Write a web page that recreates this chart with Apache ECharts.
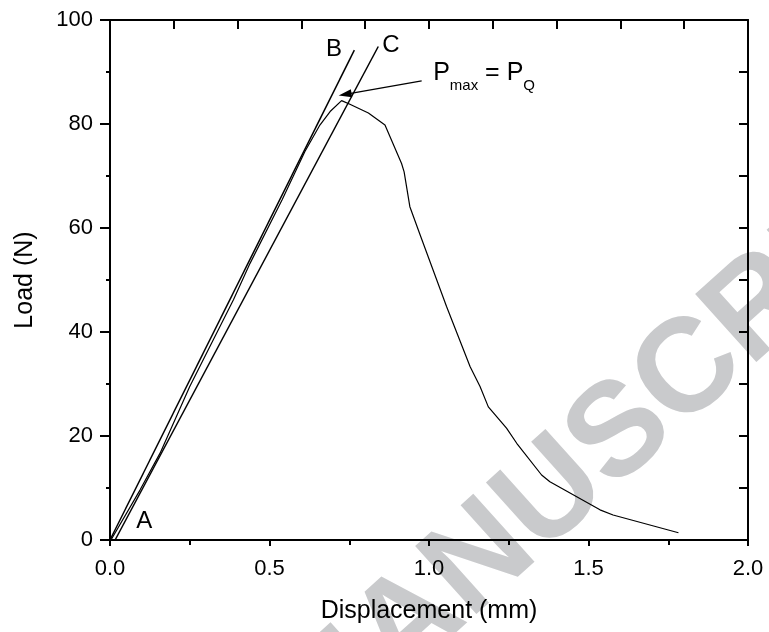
<!DOCTYPE html>
<html lang="en">
<head>
    <meta charset="UTF-8">
    <title>Load - Displacement</title>
    <script src="https://cdn.jsdelivr.net/npm/echarts@6.0.0/dist/echarts.min.js"></script>
    <style>
        html, body { margin: 0; padding: 0; background: #fff; }
    </style>
</head>
<body>
    <div id="main" style="width: 769px;height:632px;"></div>

    <script>
        // measured curve (displacement mm, load N)
        var curveX = [0.003, 0.094, 0.157, 0.250, 0.387, 0.439, 0.540, 0.611, 0.658, 0.690, 0.726,
                      0.752, 0.810, 0.862, 0.914, 0.922, 0.940, 0.972, 1.055, 1.129, 1.160,
                      1.186, 1.243, 1.275, 1.353, 1.379, 1.536, 1.577, 1.782];
        var curveY = [0.0, 9.6, 16.7, 29.5, 46.2, 53.2, 65.5, 74.7, 79.8, 82.4, 84.5,
                      83.8, 82.1, 79.8, 72.4, 70.8, 64.1, 58.7, 44.9, 33.3, 29.5,
                      25.6, 21.5, 18.6, 12.5, 11.2, 5.8, 4.8, 1.4];

        // tangent lines
        var lineB = [[0.0, 0.0], [0.766, 94.2]];
        var lineC = [[0.016, 0.0], [0.841, 94.9]];

        // arrow pointing to Pmax
        var arrowFrom = [0.977, 88.3];
        var arrowTo = [0.737, 85.7];

        // text labels
        var labelPts = [[0.702, 94.4, 'B'], [0.881, 95.2, 'C'], [0.107, 3.5, 'A']];
        var pmaxPos = [1.013, 89.8];

        var xTickLabels = ['0.0', '0.5', '1.0', '1.5', '2.0'];

        var font = 'Arial, "Liberation Sans", sans-serif';
        var black = '#000';

        var myChart = echarts.init(document.getElementById('main'));

        var curve = curveX.map(function(x, i) { return [x, curveY[i]]; });

        var option = {
            backgroundColor: '#fff',
            animation: false,
            grid: { left: 110, right: 21, top: 20, bottom: 92 },
            xAxis: [
                {
                    type: 'value', position: 'bottom', min: 0, max: 2, interval: 0.5,
                    name: 'Displacement (mm)', nameLocation: 'middle', nameGap: 59,
                    nameTextStyle: { fontSize: 25, color: black, fontFamily: font },
                    axisLine: { show: true, onZero: false, lineStyle: { color: black, width: 2 } },
                    axisTick: { show: true, inside: false, length: 6, lineStyle: { color: black, width: 2 } },
                    minorTick: { show: true, splitNumber: 2, length: 5, lineStyle: { color: black, width: 2 } },
                    splitLine: { show: false },
                    axisLabel: {
                        fontSize: 22, color: black, fontFamily: font, margin: 18,
                        formatter: function(v) { return xTickLabels[Math.round(v / 0.5)]; }
                    }
                },
                {
                    type: 'value', position: 'top', min: 0, max: 2, interval: 0.2,
                    axisLine: { show: true, onZero: false, lineStyle: { color: black, width: 2 } },
                    axisTick: { show: true, inside: true, length: 9, lineStyle: { color: black, width: 2 } },
                    axisLabel: { show: false },
                    splitLine: { show: false }
                }
            ],
            yAxis: [
                {
                    type: 'value', position: 'left', min: 0, max: 100, interval: 20,
                    name: 'Load (N)', nameLocation: 'middle', nameGap: 72,
                    nameTextStyle: { fontSize: 25, color: black, fontFamily: font },
                    axisLine: { show: true, onZero: false, lineStyle: { color: black, width: 2 } },
                    axisTick: { show: true, inside: false, length: 10, lineStyle: { color: black, width: 2 } },
                    minorTick: { show: true, splitNumber: 2, length: 4, lineStyle: { color: black, width: 2 } },
                    splitLine: { show: false },
                    axisLabel: { fontSize: 22, color: black, fontFamily: font, margin: 17 }
                },
                {
                    type: 'value', position: 'right', min: 0, max: 100, interval: 10,
                    axisLine: { show: true, onZero: false, lineStyle: { color: black, width: 2 } },
                    axisTick: { show: true, inside: true, length: 9, lineStyle: { color: black, width: 2 } },
                    axisLabel: { show: false },
                    splitLine: { show: false }
                }
            ],
            graphic: [
                {
                    // "ACCEPTED MANUSCRIPT" watermark, split at the N
                    type: 'group', x: 476, y: 627, rotation: 0.733, z: -10, silent: true,
                    children: [
                        {
                            type: 'text', x: 0, y: -46, z: -10,
                            style: { text: 'ACCEPTED MA', fill: '#c9cacc', font: 'bold 133px ' + font, align: 'right', verticalAlign: 'middle' }
                        },
                        {
                            type: 'text', x: 0, y: -46, z: -10,
                            style: { text: 'NUSCRIPT', fill: '#c9cacc', font: 'bold 133px ' + font, align: 'left', verticalAlign: 'middle' }
                        }
                    ]
                }
            ],
            series: [
                {
                    name: 'curve', type: 'line', data: curve, showSymbol: false, symbol: 'none',
                    lineStyle: { color: black, width: 1.2 }, z: 3
                },
                {
                    name: 'B', type: 'line', data: lineB, showSymbol: false, symbol: 'none',
                    lineStyle: { color: black, width: 1.5 }, z: 3
                },
                {
                    name: 'C', type: 'line', data: lineC, showSymbol: false, symbol: 'none',
                    lineStyle: { color: black, width: 1.5 }, z: 3,
                    markLine: {
                        silent: true, animation: false,
                        symbol: ['none', 'triangle'], symbolSize: [8, 13],
                        lineStyle: { color: black, width: 1.2, type: 'solid' },
                        itemStyle: { color: black },
                        label: { show: false },
                        data: [[{ coord: arrowFrom }, { coord: arrowTo }]]
                    }
                },
                {
                    name: 'labels', type: 'scatter', symbolSize: 0, z: 4,
                    data: labelPts,
                    itemStyle: { opacity: 1 },
                    label: {
                        show: true, position: 'inside', fontSize: 24, color: black, fontFamily: font, opacity: 1,
                        formatter: function(p) { return p.value[2]; }
                    }
                },
                {
                    name: 'pmax', type: 'scatter', symbolSize: 0, z: 4,
                    data: [pmaxPos],
                    itemStyle: { opacity: 1 },
                    label: {
                        show: true, position: 'right', distance: 0, opacity: 1,
                        formatter: '{p|P}{s|max}{p| = P}{s|Q}',
                        rich: {
                            p: { fontSize: 25, color: black, fontFamily: font, lineHeight: 40, verticalAlign: 'middle' },
                            s: { fontSize: 15, color: black, fontFamily: font, lineHeight: 15, verticalAlign: 'bottom' }
                        }
                    }
                }
            ]
        };

        myChart.setOption(option);
    </script>
</body>
</html>
